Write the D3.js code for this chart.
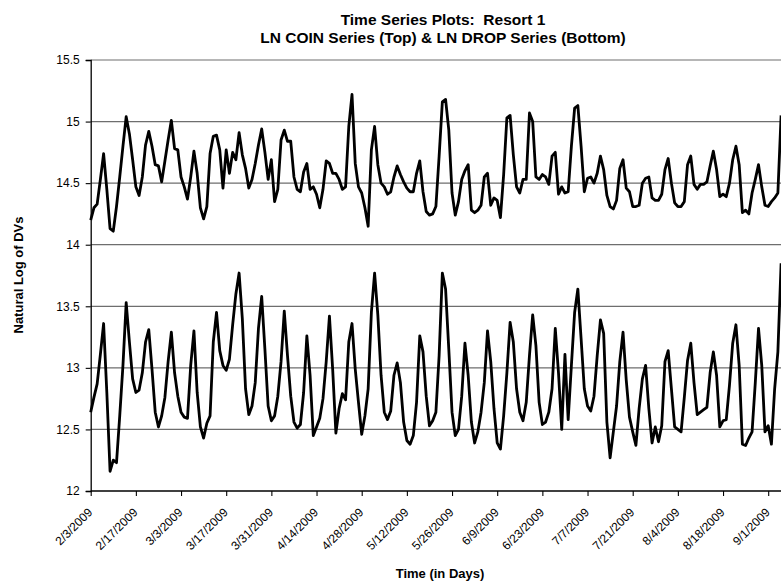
<!DOCTYPE html>
<html>
<head>
<meta charset="utf-8">
<script src="https://cdn.jsdelivr.net/npm/d3@7"></script>
<style>
  html, body { margin: 0; padding: 0; background: #fff; }
  svg { display: block; }
  text { font-family: "Liberation Sans", Arial, sans-serif; fill: #000; white-space: pre; }
</style>
</head>
<body>
<svg id="chart" width="781" height="586"></svg>
<script>
// ---------------- data ----------------
const startDate = "2009-02-03";   // first daily observation
const coinSeries = [
  14.20,14.30,14.33,14.53,14.74,14.45,14.13,14.11,14.31,14.55,14.80,15.04,14.90,14.69,14.47,14.40,14.55,14.81,14.92,14.80,
  14.65,14.64,14.51,14.68,14.85,15.01,14.78,14.77,14.55,14.47,14.37,14.55,14.76,14.58,14.30,14.21,14.31,14.74,14.88,14.89,
  14.77,14.46,14.77,14.58,14.75,14.69,14.91,14.73,14.62,14.46,14.53,14.66,14.81,14.94,14.75,14.53,14.69,14.35,14.45,14.85,
  14.93,14.84,14.84,14.55,14.45,14.43,14.59,14.66,14.45,14.47,14.41,14.30,14.45,14.68,14.66,14.58,14.58,14.53,14.45,14.47,
  14.96,15.22,14.66,14.47,14.42,14.30,14.15,14.77,14.96,14.65,14.50,14.47,14.41,14.43,14.55,14.64,14.57,14.51,14.46,14.43,
  14.43,14.58,14.68,14.43,14.27,14.24,14.25,14.31,14.72,15.16,15.18,14.93,14.42,14.24,14.35,14.53,14.60,14.65,14.28,14.26,
  14.28,14.32,14.55,14.58,14.32,14.38,14.36,14.22,14.57,15.03,15.05,14.73,14.47,14.42,14.53,14.53,15.07,15.00,14.55,14.53,
  14.57,14.55,14.49,14.72,14.75,14.41,14.47,14.42,14.43,14.80,15.11,15.13,14.80,14.43,14.54,14.55,14.50,14.58,14.72,14.61,
  14.40,14.31,14.29,14.36,14.62,14.69,14.46,14.43,14.31,14.31,14.32,14.50,14.54,14.55,14.38,14.36,14.36,14.41,14.61,14.70,
  14.50,14.34,14.31,14.31,14.35,14.65,14.72,14.49,14.45,14.49,14.49,14.51,14.64,14.76,14.61,14.39,14.41,14.39,14.50,14.69,
  14.80,14.65,14.26,14.28,14.25,14.42,14.53,14.65,14.47,14.32,14.31,14.35,14.38,14.42,15.05
];
const dropSeries = [
  12.64,12.76,12.87,13.11,13.36,12.80,12.16,12.25,12.23,12.61,13.02,13.53,13.21,12.91,12.80,12.82,12.96,13.21,13.31,12.99,
  12.64,12.52,12.61,12.76,13.05,13.29,12.96,12.77,12.64,12.60,12.59,13.02,13.30,12.80,12.52,12.43,12.55,12.61,13.21,13.45,
  13.14,13.02,12.98,13.07,13.35,13.60,13.77,13.40,12.83,12.62,12.69,12.88,13.32,13.58,13.15,12.69,12.57,12.61,12.77,13.05,
  13.46,13.10,12.77,12.56,12.51,12.54,12.80,13.26,12.94,12.45,12.52,12.59,12.75,13.05,13.42,12.99,12.47,12.67,12.79,12.74,
  13.21,13.36,12.99,12.72,12.46,12.61,12.83,13.45,13.77,13.43,12.94,12.64,12.58,12.65,12.94,13.04,12.88,12.56,12.41,12.38,
  12.45,12.72,13.26,13.13,12.77,12.53,12.57,12.64,13.10,13.77,13.64,13.15,12.64,12.45,12.50,12.77,13.20,12.94,12.56,12.39,
  12.48,12.64,12.88,13.30,13.05,12.67,12.39,12.34,12.61,12.96,13.37,13.21,12.83,12.64,12.57,12.72,13.10,13.43,13.18,12.72,
  12.54,12.56,12.64,12.83,13.32,12.96,12.50,13.11,12.58,13.02,13.45,13.64,13.24,12.83,12.69,12.65,12.77,13.10,13.39,13.28,
  12.56,12.27,12.48,12.69,13.05,13.29,12.90,12.60,12.48,12.37,12.67,12.91,13.02,12.67,12.39,12.52,12.40,12.53,13.05,13.14,
  12.83,12.52,12.50,12.48,12.76,13.06,13.20,12.88,12.62,12.64,12.66,12.68,12.96,13.13,12.94,12.52,12.57,12.58,12.86,13.20,
  13.35,13.02,12.38,12.37,12.43,12.48,12.88,13.32,13.02,12.48,12.53,12.38,12.83,13.13,13.85
];
const xTickLabels = ["2/3/2009","2/17/2009","3/3/2009","3/17/2009","3/31/2009","4/14/2009","4/28/2009","5/12/2009",
  "5/26/2009","6/9/2009","6/23/2009","7/7/2009","7/21/2009","8/4/2009","8/18/2009","9/1/2009"];
const yTicks = [12, 12.5, 13, 13.5, 14, 14.5, 15, 15.5];
const titleLines = ["Time Series Plots:  Resort 1", "LN COIN Series (Top) & LN DROP Series (Bottom)"];
const xTitle = "Time (in Days)";
const yTitle = "Natural Log of DVs";

// ---------------- layout ----------------
const svg = d3.select("#chart");
const FONT = "Liberation Sans, Arial, sans-serif";
const plotLeft = 90.7, plotTop = 60, plotBottom = 491, plotRight = 781;

const parseMDY = d3.utcParse("%m/%d/%Y");
const start = d3.utcParse("%Y-%m-%d")(startDate);
const dates = coinSeries.map((_, i) => d3.utcDay.offset(start, i));
const tickDates = xTickLabels.map(parseMDY);

const x = d3.scaleUtc()
  .domain([tickDates[0], tickDates[tickDates.length - 1]])
  .range([plotLeft, 768.2]);
const y = d3.scaleLinear().domain([12, 15.5]).range([plotBottom, plotTop]);

// gridlines
svg.append("g").selectAll("line")
  .data(yTicks.filter(v => v > 12))
  .join("line")
  .attr("x1", plotLeft).attr("x2", plotRight + 5)
  .attr("y1", d => y(d)).attr("y2", d => y(d))
  .attr("stroke", "#6e6e6e").attr("stroke-width", 1.2);

// y axis
const yAxis = d3.axisLeft(y).tickValues(yTicks).tickSize(5).tickPadding(6)
  .tickFormat(d => String(d));
const gy = svg.append("g").attr("transform", `translate(${plotLeft},0)`).call(yAxis);
gy.select(".domain").attr("stroke", "#000").attr("stroke-width", 1.3);
gy.selectAll(".tick line").attr("stroke", "#000").attr("stroke-width", 1.1);
gy.selectAll(".tick text").attr("font-size", 12).attr("font-family", FONT);

// x axis
const xAxis = d3.axisBottom(x).tickValues(tickDates).tickSize(5).tickFormat((d, i) => xTickLabels[i]);
const gx = svg.append("g").attr("transform", `translate(0,${plotBottom})`).call(xAxis);
gx.select(".domain").remove();
gx.append("line").attr("x1", plotLeft).attr("x2", plotRight + 5).attr("y1", 0).attr("y2", 0)
  .attr("stroke", "#000").attr("stroke-width", 1.3);
gx.selectAll(".tick line").attr("stroke", "#000").attr("stroke-width", 1.1);
gx.selectAll(".tick text")
  .attr("font-size", 12).attr("font-family", FONT)
  .attr("text-anchor", "end")
  .attr("y", 0).attr("dy", 0)
  .attr("transform", "translate(2,22) rotate(-45)");

// lines
const line = d3.line().x((d, i) => x(dates[i])).y(d => y(d));
[coinSeries, dropSeries].forEach(s => {
  svg.append("path").datum(s)
    .attr("fill", "none").attr("stroke", "#000").attr("stroke-width", 2.8)
    .attr("stroke-linejoin", "round")
    .attr("d", line);
});

// titles
svg.append("text").attr("x", 443).attr("y", 24.5).attr("text-anchor", "middle")
  .attr("font-size", 15.5).attr("font-weight", "bold").text(titleLines[0]);
svg.append("text").attr("x", 443).attr("y", 43).attr("text-anchor", "middle")
  .attr("font-size", 15.5).attr("font-weight", "bold").text(titleLines[1]);
svg.append("text").attr("x", 440).attr("y", 578).attr("text-anchor", "middle")
  .attr("font-size", 13).attr("font-weight", "bold").text(xTitle);
svg.append("text").attr("transform", "translate(23,275) rotate(-90)").attr("text-anchor", "middle")
  .attr("font-size", 13).attr("font-weight", "bold").text(yTitle);
</script>
</body>
</html>
